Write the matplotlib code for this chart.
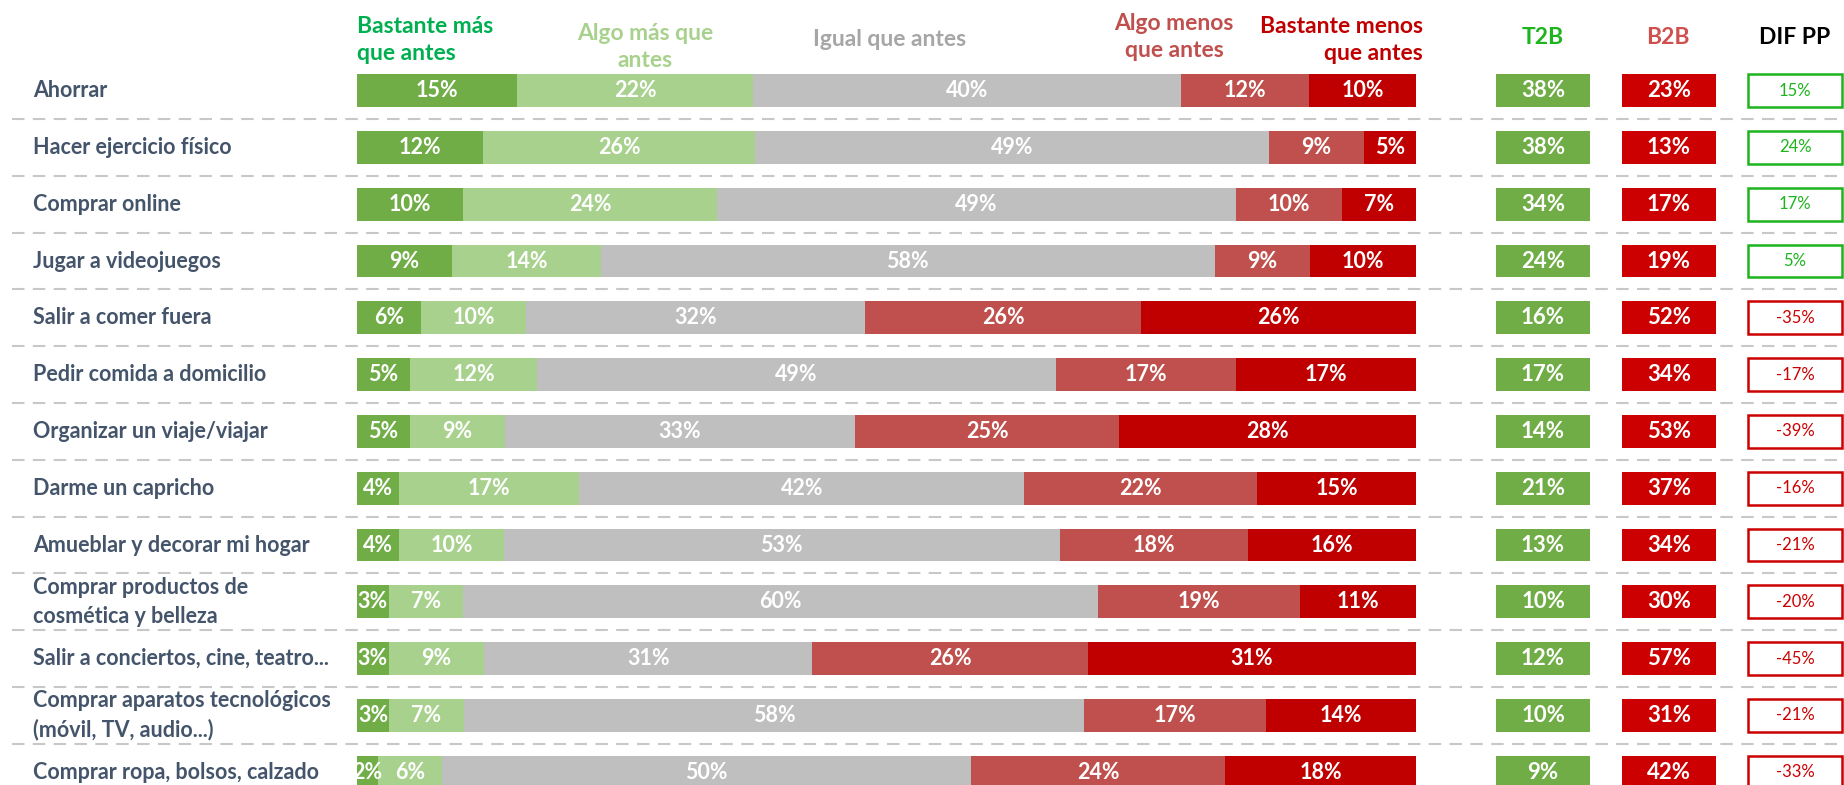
"""
Stacked bars: change in spending habits per activity, with T2B / B2B / DIF columns
"""

import numpy as np
import matplotlib.pyplot as plt
from matplotlib.lines import Line2D
from matplotlib.transforms import blended_transform_factory

plt.rcParams['font.family'] = ['Lato', 'DejaVu Sans']

activities = [
    "Ahorrar",
    "Hacer ejercicio físico",
    "Comprar online",
    "Jugar a videojuegos",
    "Salir a comer fuera",
    "Pedir comida a domicilio",
    "Organizar un viaje/viajar",
    "Darme un capricho",
    "Amueblar y decorar mi hogar",
    "Comprar productos de\ncosmética y belleza",
    "Salir a conciertos, cine, teatro...",
    "Comprar aparatos tecnológicos\n(móvil, TV, audio...)",
    "Comprar ropa, bolsos, calzado",
]
series_names = ["Bastante más\nque antes", "Algo más que\nantes", "Igual que antes",
                "Algo menos\nque antes", "Bastante menos\nque antes"]
bastante_mas = [15, 12, 10, 9, 6, 5, 5, 4, 4, 3, 3, 3, 2]
algo_mas = [22, 26, 24, 14, 10, 12, 9, 17, 10, 7, 9, 7, 6]
igual = [40, 49, 49, 58, 32, 49, 33, 42, 53, 60, 31, 58, 50]
algo_menos = [12, 9, 10, 9, 26, 17, 25, 22, 18, 19, 26, 17, 24]
bastante_menos = [10, 5, 7, 10, 26, 17, 28, 15, 16, 11, 31, 14, 18]
t2b = [38, 38, 34, 24, 16, 17, 14, 21, 13, 10, 12, 10, 9]
b2b = [23, 13, 17, 19, 52, 34, 53, 37, 34, 30, 57, 31, 42]
dif_pp = [15, 24, 17, 5, -35, -17, -39, -16, -21, -20, -45, -21, -33]

bar_colors = ["#70AD47", "#A9D18E", "#BFBFBF", "#C0504D", "#C00000"]
head_colors = ["#00B050", "#A9D18E", "#A6A6A6", "#C0504D", "#C00000"]
GREEN_TXT = "#1DB41D"
RED_BOX = "#CC0000"
LABEL_COL = "#44546A"

W, H = 1844, 785
fig = plt.figure(figsize=(W / 100, H / 100), dpi=100)

n = len(activities)
y = np.arange(n)
row_px = 56.8
top_px = 90.6 - row_px / 2
bot_px = top_px + n * row_px
ax_bottom = 1 - bot_px / H
ax_height = n * row_px / H

ax = fig.add_axes([357 / W, ax_bottom, (1416 - 357) / W, ax_height])
ax.set_xlim(0, 100)
ax.set_ylim(n - 0.5, -0.5)
ax.axis('off')

data = np.array([bastante_mas, algo_mas, igual, algo_menos, bastante_menos], dtype=float)
totals = data.sum(axis=0)
shares = data / totals * 100
left = np.zeros(n)
for k in range(5):
    ax.barh(y, shares[k], left=left, height=0.58, color=bar_colors[k])
    for i in range(n):
        ax.text(left[i] + shares[k][i] / 2, y[i], "%d%%" % data[k][i],
                ha='center', va='center', color='white', fontsize=15.5,
                fontweight='bold')
    left += shares[k]

# summary columns
ax2 = fig.add_axes([1480 / W, ax_bottom, 378 / W, ax_height], sharey=ax)
ax2.set_xlim(-0.5, 2.5)
ax2.axis('off')
bw = 0.74
ax2.barh(y, bw, left=-bw / 2, height=0.58, color="#70AD47")
ax2.barh(y, bw, left=1 - bw / 2, height=0.58, color=RED_BOX)
dif_cols = [GREEN_TXT if d > 0 else RED_BOX for d in dif_pp]
ax2.barh(y, bw, left=2 - bw / 2, height=0.58, facecolor='white',
         edgecolor=dif_cols, linewidth=1.8)
for i in range(n):
    ax2.text(0, y[i], "%d%%" % t2b[i], ha='center', va='center',
             color='white', fontsize=16, fontweight='bold')
    ax2.text(1, y[i], "%d%%" % b2b[i], ha='center', va='center',
             color='white', fontsize=16, fontweight='bold')
    ax2.text(2, y[i], "%d%%" % dif_pp[i], ha='center', va='center',
             color=dif_cols[i], fontsize=12)

# row labels and dashed separators
tr = blended_transform_factory(fig.transFigure, ax.transData)
for i, name in enumerate(activities):
    fig.text(33 / W, y[i], name, transform=tr, ha='left', va='center',
             color=LABEL_COL, fontsize=15.5, fontweight='bold', linespacing=1.45)
for i in range(n - 1):
    fig.add_artist(Line2D([12 / W, 1], [i + 0.5, i + 0.5], transform=tr,
                          color="#C8C8C8", lw=1.5, ls=(0, (6, 4))))

# column headers
def px_text(x, yy, s, color, ha='center', size=16.5):
    fig.text(x / W, 1 - yy / H, s, ha=ha, va='center', color=color,
             fontsize=size, fontweight='bold', linespacing=1.4)

px_text(357, 40, series_names[0], head_colors[0], ha='left')
px_text(645, 47, series_names[1], head_colors[1])
px_text(890, 39, series_names[2], head_colors[2])
px_text(1174, 37, series_names[3], head_colors[3])
px_text(1423, 40, series_names[4], head_colors[4], ha='right')
px_text(1543, 38, "T2B", GREEN_TXT)
px_text(1668, 38, "B2B", "#D05050")
px_text(1795, 38, "DIF PP", "black")

fig.savefig("out.png", dpi=100)
